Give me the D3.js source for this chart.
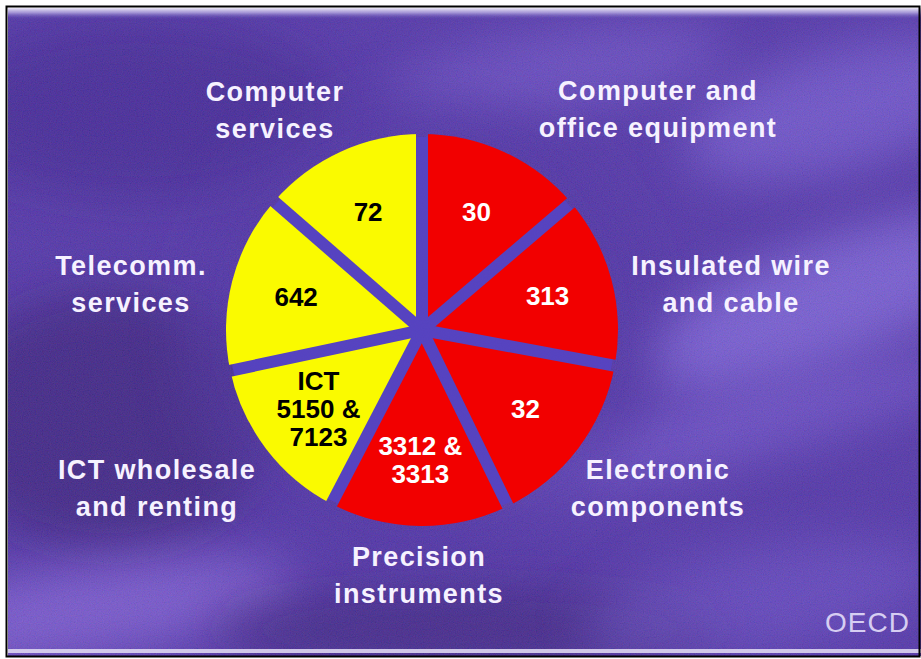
<!DOCTYPE html>
<html>
<head>
<meta charset="utf-8">
<script src="https://cdn.jsdelivr.net/npm/d3@7/dist/d3.min.js"></script>
<style>
html,body{margin:0;padding:0;background:#fff;overflow:hidden;}
svg{display:block;}
</style>
</head>
<body>
<svg id="chart"></svg>
<script>
const W = 921, H = 659;

// slices go clockwise from 12 o'clock
const codes  = ['30', '313', '32', '3312 &|3313', 'ICT|5150 &|7123', '642', '72'];
const names  = ['Computer and|office equipment', 'Insulated wire|and cable', 'Electronic|components',
                'Precision|instruments', 'ICT wholesale|and renting', 'Telecomm.|services', 'Computer|services'];
const shares = [49.5, 51, 53.5, 53.5, 50.5, 53, 49]; // slice angle in degrees
const groups = ['goods', 'goods', 'goods', 'goods', 'services', 'services', 'services'];
const source = 'OECD';

const data = codes.map((c, i) => ({code: c, name: names[i], v: shares[i], g: groups[i]}));

// layout
const cx = 422, cy = 330, R = 196, gap = 12;
const labelPos = [[658, 100], [731, 275], [658, 479], [419, 566], [157, 479], [131, 275], [275, 101]];

const svg = d3.select('#chart').attr('width', W).attr('height', H);
const defs = svg.append('defs');

// background bits
const blur = defs.append('filter').attr('id', 'blur').attr('x', '-50%').attr('y', '-50%').attr('width', '200%').attr('height', '200%');
blur.append('feGaussianBlur').attr('stdDeviation', 24);

const noise = defs.append('filter').attr('id', 'noise').attr('x', 0).attr('y', 0).attr('width', '100%').attr('height', '100%');
noise.append('feTurbulence').attr('type', 'fractalNoise').attr('baseFrequency', 0.85).attr('numOctaves', 2).attr('seed', 7);
noise.append('feColorMatrix').attr('type', 'matrix')
  .attr('values', '1.2 0 0 0 -0.1  0 0.6 0 0 0  0 0 1.3 0 0  0 0 0 0 1');

const topBand = defs.append('linearGradient').attr('id', 'topband').attr('x1', 0).attr('y1', 0).attr('x2', 0).attr('y2', 1);
topBand.append('stop').attr('offset', 0).attr('stop-color', '#ece8f6').attr('stop-opacity', 1);
topBand.append('stop').attr('offset', 0.4).attr('stop-color', '#b4a8e0').attr('stop-opacity', 0.8);
topBand.append('stop').attr('offset', 1).attr('stop-color', '#4c34a6').attr('stop-opacity', 0);

const clip = defs.append('clipPath').attr('id', 'frame');
clip.append('rect').attr('x', 8).attr('y', 8).attr('width', W - 8).attr('height', H - 11);

const bg = svg.append('g').attr('clip-path', 'url(#frame)');
bg.append('rect').attr('x', 0).attr('y', 0).attr('width', W).attr('height', H).attr('fill', '#4830a2');

const blobs = [
  // x, y, rx, ry, rotate, colour, opacity
  [140, 110, 200, 90, 0, '#321e86', 0.6],
  [560, 70, 170, 40, -8, '#7c66da', 0.45],
  [840, 110, 160, 60, -15, '#7e6ae0', 0.55],
  [830, 300, 200, 60, -20, '#8a78ea', 0.6],
  [720, 430, 260, 35, -14, '#7a64dc', 0.5],
  [110, 420, 170, 130, 0, '#2a166a', 0.65],
  [90, 610, 210, 45, -8, '#8c70e2', 0.6],
  [470, 630, 260, 45, 0, '#2a1868', 0.55],
  [760, 600, 180, 50, -10, '#6a54cc', 0.5],
  [420, 330, 240, 240, 0, '#432c9c', 0.5]
];
bg.selectAll('ellipse').data(blobs).join('ellipse')
  .attr('cx', d => d[0]).attr('cy', d => d[1]).attr('rx', d => d[2]).attr('ry', d => d[3])
  .attr('transform', d => `rotate(${d[4]},${d[0]},${d[1]})`)
  .attr('fill', d => d[5]).attr('opacity', d => d[6]).attr('filter', 'url(#blur)');

bg.append('rect').attr('x', 0).attr('y', 0).attr('width', W).attr('height', H)
  .attr('filter', 'url(#noise)').attr('opacity', 0.18);

bg.append('rect').attr('x', 8).attr('y', 8).attr('width', W).attr('height', 12).attr('fill', 'url(#topband)');
bg.append('rect').attr('x', 8).attr('y', 649).attr('width', W).attr('height', 4).attr('fill', '#ddd6f0').attr('opacity', 0.9);

svg.append('rect').attr('x', 6.5).attr('y', 6.5).attr('width', W - 8).attr('height', H - 9)
  .attr('fill', 'none').attr('stroke', '#000').attr('stroke-width', 2);

// slice shading
const shade = {
  goods:    ['#bc0000', '#ee0000', '#ff0000', '#f20000'],
  services: ['#aaa600', '#e4e200', '#ffff10', '#fafa00']
};
Object.entries(shade).forEach(([k, c]) => {
  const g = defs.append('radialGradient').attr('id', 'fill-' + k)
    .attr('gradientUnits', 'userSpaceOnUse').attr('cx', cx).attr('cy', cy).attr('r', R);
  [0, 0.5, 0.82, 1].forEach((o, i) => g.append('stop').attr('offset', o).attr('stop-color', c[i]));
});

const pie = d3.pie().sort(null).value(d => d.v);
const arc = d3.arc().innerRadius(0).outerRadius(R);
const labelArc = d3.arc().innerRadius(130).outerRadius(130);
const arcs = pie(data);

// parallel gaps: cut bands of constant width along every slice edge
const mask = defs.append('mask').attr('id', 'gaps').attr('maskUnits', 'userSpaceOnUse')
  .attr('x', -R - 20).attr('y', -R - 20).attr('width', 2 * R + 40).attr('height', 2 * R + 40);
mask.append('circle').attr('r', R + 10).attr('fill', '#fff');
mask.selectAll('line').data(arcs).join('line')
  .attr('x1', 0).attr('y1', 0)
  .attr('x2', d => Math.sin(d.startAngle) * (R + 20))
  .attr('y2', d => -Math.cos(d.startAngle) * (R + 20))
  .attr('stroke', '#000').attr('stroke-width', gap);

const chart = svg.append('g').attr('transform', `translate(${cx},${cy})`);
// the gaps show a slightly bluer purple than the backdrop
chart.append('circle').attr('r', R - 3).attr('fill', '#5644c4').attr('opacity', 0.85);
chart.append('g').attr('mask', 'url(#gaps)')
  .selectAll('path').data(arcs).join('path')
  .attr('d', arc)
  .attr('fill', d => `url(#fill-${d.data.g})`);

const font = '"Liberation Sans", Arial, Helvetica, sans-serif';

// codes inside the slices
const inner = chart.selectAll('text.code').data(arcs).join('text')
  .attr('class', 'code')
  .attr('transform', d => `translate(${labelArc.centroid(d)})`)
  .attr('text-anchor', 'middle')
  .style('font-family', font).style('font-weight', 'bold').style('font-size', '26px')
  .attr('fill', d => d.data.g === 'goods' ? '#fff' : '#000');
inner.each(function(d) {
  const lines = d.data.code.split('|');
  const lh = 28;
  const y0 = -(lines.length - 1) * lh / 2 + 9;
  d3.select(this).selectAll('tspan').data(lines).join('tspan')
    .attr('x', 0).attr('y', (l, i) => y0 + i * lh).text(l => l);
});

// category names round the pie
const outer = svg.append('g').selectAll('text').data(data).join('text')
  .attr('text-anchor', 'middle')
  .style('font-family', font).style('font-weight', 'bold').style('font-size', '27px')
  .style('letter-spacing', '1.4px')
  .attr('fill', '#f6f2ff');
outer.each(function(d, i) {
  const lines = d.name.split('|');
  d3.select(this).selectAll('tspan').data(lines).join('tspan')
    .attr('x', labelPos[i][0]).attr('y', (l, j) => labelPos[i][1] + j * 37).text(l => l);
});

svg.append('text').attr('x', 910).attr('y', 632).attr('text-anchor', 'end')
  .style('font-family', font).style('font-size', '28px').style('letter-spacing', '1px')
  .attr('fill', '#d6cef2').text(source);
</script>
</body>
</html>
